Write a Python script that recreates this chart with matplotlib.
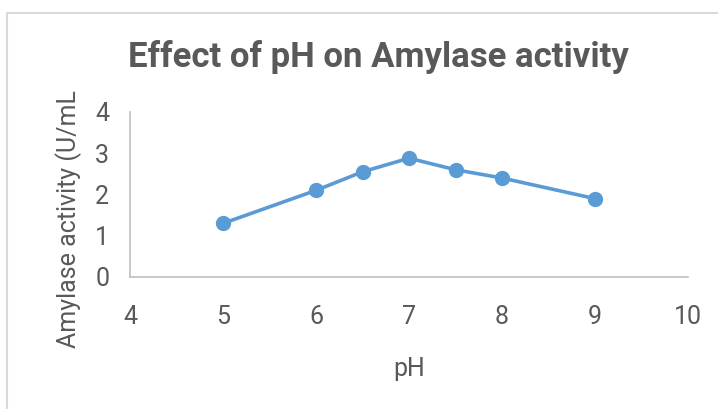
import matplotlib.pyplot as plt
from matplotlib.patches import Rectangle

ph = [5, 6, 6.5, 7, 7.5, 8, 9]
activity = [1.3, 2.1, 2.55, 2.88, 2.6, 2.4, 1.9]
xticks = [4, 5, 6, 7, 8, 9, 10]
yticks = [0, 1, 2, 3, 4]

plt.rcParams['font.family'] = ['Roboto', 'DejaVu Sans']

txt = '#595959'
fig = plt.figure(figsize=(7.18, 4.09), dpi=100)
ax = fig.add_axes([130/718, 1 - 277/409, 558/718, 165/409])

ax.plot(ph, activity, color='#5B9BD5', linewidth=2.6, marker='o', markersize=10)

ax.set_xlim(4, 10)
ax.set_ylim(0, 4)
ax.set_xticks(xticks)
ax.set_yticks(yticks)
ax.tick_params(length=0, labelsize=18, colors=txt)
ax.tick_params(axis='x', pad=20)
ax.tick_params(axis='y', pad=15)
for s in ['top', 'right']:
    ax.spines[s].set_visible(False)
for s in ['left', 'bottom']:
    ax.spines[s].set_color('#BFBFBF')
    ax.spines[s].set_linewidth(1.2)

ax.set_xlabel('pH', fontsize=18, color=txt, labelpad=20)
ax.set_ylabel('Amylase activity (U/mL', fontsize=18, color=txt)
ax.yaxis.set_label_coords(-0.086, 0.35)
fig.text(378/718, 1 - 57/409, 'Effect of pH on Amylase activity', fontsize=25,
         fontweight='bold', color=txt, ha='center', va='center')

fig.patches.append(Rectangle((7/718, -0.1), 1.2, 1 - 13/409 + 0.1, transform=fig.transFigure,
                             fill=False, edgecolor='#D9D9D9', linewidth=1.5))

fig.savefig('out.png', dpi=100)
